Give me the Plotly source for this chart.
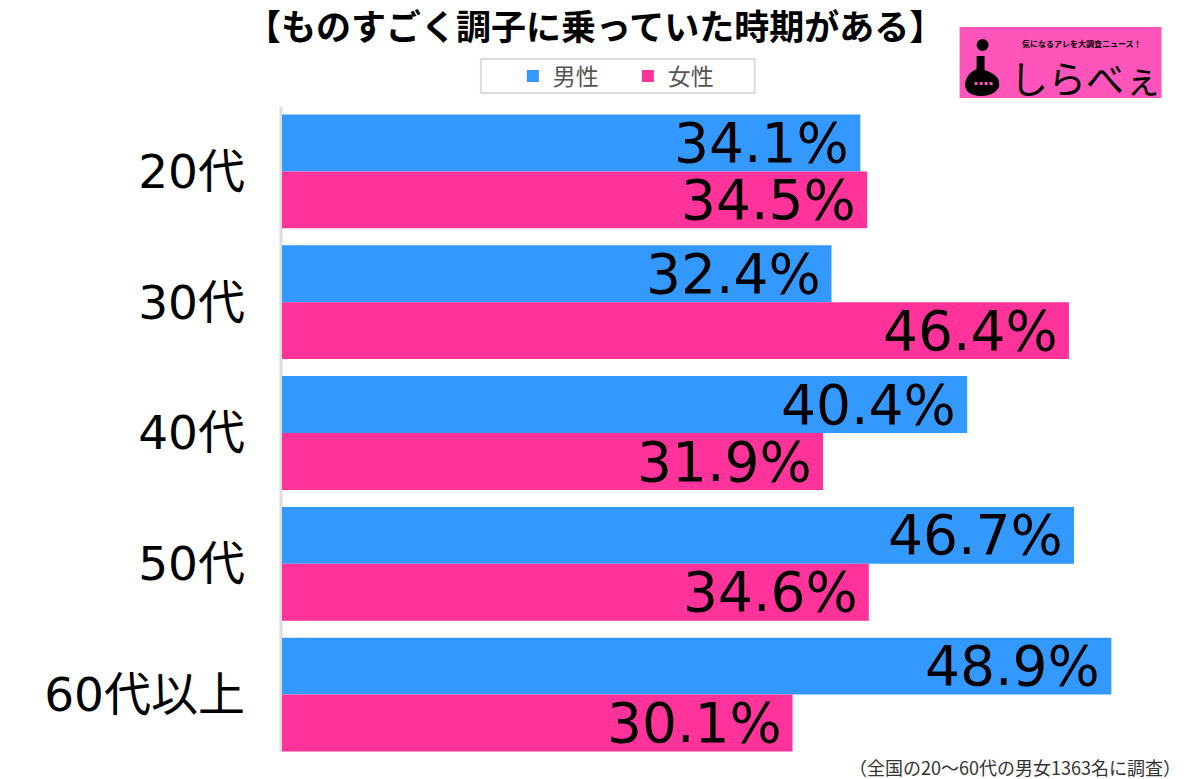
import plotly.graph_objects as go

categories = ["20代", "30代", "40代", "50代", "60代以上"]
male = [34.1, 32.4, 40.4, 46.7, 48.9]
female = [34.5, 46.4, 31.9, 34.6, 30.1]
series_names = ["男性", "女性"]
colors = ["#3399FF", "#FF3399"]
title_text = "【ものすごく調子に乗っていた時期がある】"
note_text = "（全国の20～60代の男女1363名に調査）"

W, H = 1200, 779
ML, MR, MT, MB = 282, 69.5, 106, 19
PW = W - ML - MR
PH = H - MT - MB

def px(x):
    return (x - ML) / PW

def py(y):
    return (H - MB - y) / PH

NUMFONT = "DejaVu Sans, Noto Sans CJK JP, sans-serif"
JPFONT = "Noto Sans CJK JP, sans-serif"

fig = go.Figure()
for name, vals, col in zip(series_names, [male, female], colors):
    fig.add_trace(go.Bar(
        y=categories, x=vals, name=name, orientation="h",
        marker=dict(color=col, line=dict(width=0)),
        hoverinfo="skip",
    ))

annotations = []
for vals, shift in [(male, 28.5), (female, -28.5)]:
    for c, v in zip(categories, vals):
        annotations.append(dict(
            x=v, y=c, xref="x", yref="y", text=f"{v:.1f}%",
            xanchor="right", yanchor="middle", xshift=-9, yshift=shift,
            showarrow=False, font=dict(family=NUMFONT, size=55, color="#000000"),
        ))

annotations.append(dict(
    x=px(595), y=py(25), xref="paper", yref="paper", text="<b>" + title_text + "</b>",
    xanchor="center", yanchor="middle", showarrow=False,
    font=dict(family=JPFONT, size=35, color="#000000"),
))
annotations.append(dict(
    x=px(1184), y=py(767), xref="paper", yref="paper", text=note_text,
    xanchor="right", yanchor="middle", showarrow=False,
    font=dict(family=JPFONT, size=18, color="#333333"),
))
# logo texts
annotations.append(dict(
    x=px(1082), y=py(44), xref="paper", yref="paper", text="<b>気になるアレを大調査ニュース！</b>",
    xanchor="center", yanchor="middle", showarrow=False,
    font=dict(family=JPFONT, size=8, color="#000000"),
))
annotations.append(dict(
    x=px(1086), y=py(76), xref="paper", yref="paper", text="しらべぇ",
    xanchor="center", yanchor="middle", showarrow=False,
    font=dict(family=JPFONT, size=38, color="#000000"),
))

shapes = [
    # axis line
    dict(type="line", xref="paper", yref="paper", x0=px(281), x1=px(281), y0=py(107), y1=py(752),
         line=dict(color="#DDDDDD", width=3), layer="below"),
    # legend box
    dict(type="rect", xref="paper", yref="paper", x0=px(481), x1=px(755), y0=py(93), y1=py(59),
         line=dict(color="#DDDDDD", width=2), fillcolor="rgba(0,0,0,0)"),
    # logo box
    dict(type="rect", xref="paper", yref="paper", x0=px(960), x1=px(1162), y0=py(98), y1=py(27),
         line=dict(width=0), fillcolor="#FF55BB"),
    # logo figure dot
    dict(type="circle", xref="paper", yref="paper", x0=px(977), x1=px(989), y0=py(51), y1=py(39),
         line=dict(width=0), fillcolor="#000000"),
]
path = "M {},{} L {},{} L {},{} Q {},{} {},{} Q {},{} {},{} Q {},{} {},{} Q {},{} {},{} Z".format(
    px(977), py(56), px(985), py(56), px(985), py(70),
    px(1003), py(76), px(999), py(88),
    px(993), py(97), px(979), py(96),
    px(963), py(94), px(966), py(81),
    px(968), py(73), px(977), py(69),
)
shapes.append(dict(type="path", xref="paper", yref="paper", path=path,
                   line=dict(width=0), fillcolor="#000000"))
for x0 in [975, 980, 985, 990]:
    shapes.append(dict(type="rect", xref="paper", yref="paper", x0=px(x0), x1=px(x0 + 3),
                       y0=py(85), y1=py(82), line=dict(width=0), fillcolor="#FF55BB"))

fig.update_layout(
    width=W, height=H,
    margin=dict(l=ML, r=MR, t=MT, b=MB, pad=0),
    paper_bgcolor="#FFFFFF", plot_bgcolor="#FFFFFF",
    barmode="group", bargap=0.13, bargroupgap=0,
    xaxis=dict(range=[0, 50], showgrid=False, zeroline=False, showticklabels=False,
               showline=False, fixedrange=True),
    yaxis=dict(autorange="reversed", showgrid=False, zeroline=False, showline=False,
               ticks="", ticklabelstandoff=36,
               tickfont=dict(family=NUMFONT, size=47, color="#000000"), fixedrange=True),
    showlegend=True,
    legend=dict(orientation="h", x=px(513), y=py(76), xanchor="left", yanchor="middle",
                font=dict(family=JPFONT, size=23, color="#555555"),
                bgcolor="rgba(0,0,0,0)", borderwidth=0, entrywidth=70, itemclick=False,
                itemdoubleclick=False),
    annotations=annotations,
    shapes=shapes,
)

fig.write_html("out.html", config={"displayModeBar": False},
               post_script="document.body.style.margin='0';document.body.style.overflow='hidden';")
